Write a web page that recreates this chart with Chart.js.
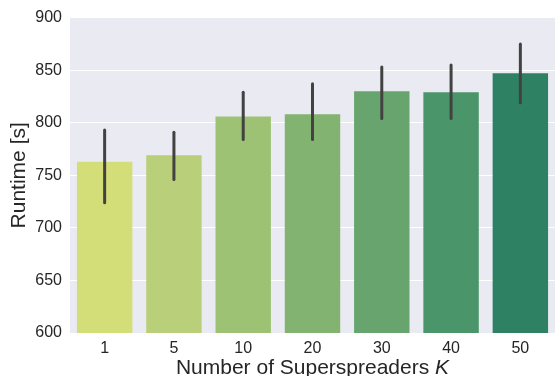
<!DOCTYPE html>
<html>
<head>
<meta charset="utf-8">
<script src="https://cdn.jsdelivr.net/npm/chart.js@4/dist/chart.umd.min.js"></script>
<style>
  html, body { margin: 0; padding: 0; background: #fff; }
  #wrap { position: relative; width: 555px; height: 376px; overflow: hidden; }
  #xTitle {
    position: absolute; left: 70px; width: 485px; top: 355px;
    text-align: center; font-family: 'Liberation Sans', Arial, sans-serif;
    font-size: 21px; color: #262626; line-height: 24px; white-space: nowrap;
  }
</style>
</head>
<body>
<div id="wrap">
  <canvas id="runtimeChart" width="555" height="376"></canvas>
  <div id="xTitle">Number of Superspreaders <i>K</i></div>
</div>
<script>
// number of superspreaders K
const categories = ['1', '5', '10', '20', '30', '40', '50'];
// mean runtime per K, in seconds
const runtimeMean = [763, 769, 806, 808, 830, 829, 847];
// 95% ci of the mean
const ciLow = [724, 746, 784, 784, 804, 804, 819];
const ciHigh = [793, 791, 829, 837, 853, 855, 875];
const barColors = ['#d3de78', '#b9cf79', '#9dc274', '#83b370', '#68a56e', '#4a956a', '#2e8163'];
const yTicks = [600, 650, 700, 750, 800, 850, 900];

// seaborn darkgrid background
const plotBackground = {
  id: 'plotBackground',
  beforeDraw(chart) {
    const { ctx, chartArea } = chart;
    ctx.save();
    ctx.fillStyle = '#eaeaf2';
    ctx.fillRect(chartArea.left, chartArea.top, chartArea.width, chartArea.height);
    ctx.restore();
  }
};

// vertical ci lines on top of each bar
const errorBars = {
  id: 'errorBars',
  afterDatasetsDraw(chart) {
    const { ctx } = chart;
    const yScale = chart.scales.y;
    const meta = chart.getDatasetMeta(0);
    ctx.save();
    ctx.strokeStyle = '#424242';
    ctx.lineWidth = 3;
    ctx.lineCap = 'round';
    meta.data.forEach((bar, i) => {
      ctx.beginPath();
      ctx.moveTo(bar.x, yScale.getPixelForValue(ciLow[i]));
      ctx.lineTo(bar.x, yScale.getPixelForValue(ciHigh[i]));
      ctx.stroke();
    });
    ctx.restore();
  }
};

const ctx = document.getElementById('runtimeChart').getContext('2d');
new Chart(ctx, {
  type: 'bar',
  data: {
    labels: categories,
    datasets: [{
      data: runtimeMean,
      backgroundColor: barColors,
      borderWidth: 0,
      categoryPercentage: 1,
      barPercentage: 0.8
    }]
  },
  options: {
    responsive: false,
    animation: false,
    layout: { padding: { top: 16, right: 0, left: 0, bottom: 0 } },
    plugins: {
      legend: { display: false },
      tooltip: { enabled: false }
    },
    scales: {
      x: {
        grid: { display: false, drawTicks: false },
        border: { display: false },
        ticks: {
          color: '#262626',
          padding: 6,
          font: { family: 'Liberation Sans', size: 16 }
        },
        afterFit(scale) { scale.height = 43; }
      },
      y: {
        min: 600,
        max: 900,
        afterBuildTicks(scale) { scale.ticks = yTicks.map(v => ({ value: v })); },
        grid: { color: '#ffffff', lineWidth: 1, drawTicks: false },
        border: { display: false },
        ticks: {
          color: '#262626',
          padding: 8,
          font: { family: 'Liberation Sans', size: 16 }
        },
        title: {
          display: true,
          text: 'Runtime [s]',
          color: '#262626',
          padding: { top: 7, bottom: 0 },
          font: { family: 'Liberation Sans', size: 21 }
        },
        afterFit(scale) { scale.width = 70; }
      }
    }
  },
  plugins: [plotBackground, errorBars]
});
</script>
</body>
</html>
